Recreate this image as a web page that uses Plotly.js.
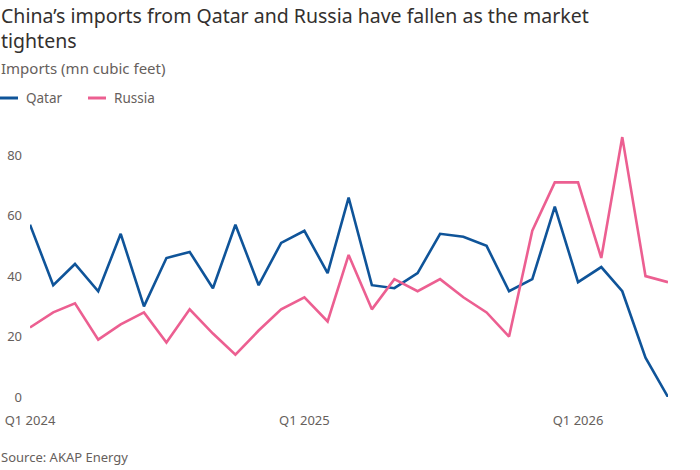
<!DOCTYPE html>
<html>
<head>
<meta charset="utf-8">
<script src="https://cdn.plot.ly/plotly-3.0.1.min.js"></script>
<style>
  html, body { margin: 0; padding: 0; background: #ffffff; }
  #chart { width: 700px; height: 470px; }
</style>
</head>
<body>
<div id="chart"></div>
<script>
// Monthly imports, January 2024 to May 2026 (mn cubic feet)
const months = [
  '2024-01-01','2024-02-01','2024-03-01','2024-04-01','2024-05-01','2024-06-01',
  '2024-07-01','2024-08-01','2024-09-01','2024-10-01','2024-11-01','2024-12-01',
  '2025-01-01','2025-02-01','2025-03-01','2025-04-01','2025-05-01','2025-06-01',
  '2025-07-01','2025-08-01','2025-09-01','2025-10-01','2025-11-01','2025-12-01',
  '2026-01-01','2026-02-01','2026-03-01','2026-04-01','2026-05-01'
];
const qatar = [57, 37, 44, 35, 54, 30, 46, 48, 36, 57, 37, 51,
               55, 41, 66, 37, 36, 41, 54, 53, 50, 35, 39, 63,
               38, 43, 35, 13, 0];
const russia = [23, 28, 31, 19, 24, 28, 18, 29, 21, 14, 22, 29,
                33, 25, 47, 29, 39, 35, 39, 33, 28, 20, 55, 71,
                71, 46, 86, 40, 38];
const seriesNames = ['Qatar', 'Russia'];
const seriesColors = ['#0f5499', '#ec5f91'];
const xTickVals = ['2024-01-01', '2025-01-01', '2026-01-01'];
const xTickText = ['Q1 2024', 'Q1 2025', 'Q1 2026'];
const yTickVals = [0, 20, 40, 60, 80];

const FONT = 'Noto Sans, Open Sans, sans-serif';
const INK = '#33302e';
const GREY = '#66605c';

const W = 700, H = 470;
const M = { l: 30, r: 32, t: 125, b: 73 };
const plotW = W - M.l - M.r, plotH = H - M.t - M.b;
// convert page pixels into paper fractions for the header and footer
const px = v => (v - M.l) / plotW;
const py = v => (H - M.b - v) / plotH;

const traces = [
  {
    x: months, y: qatar, name: seriesNames[0], type: 'scatter', mode: 'lines',
    line: { color: seriesColors[0], width: 2.6 }
  },
  {
    x: months, y: russia, name: seriesNames[1], type: 'scatter', mode: 'lines',
    line: { color: seriesColors[1], width: 2.6 }
  }
];

// legend: short coloured key followed by the series name
const legendKeys = [{ x0: 0, x1: 18, tx: 24 }, { x0: 88, x1: 106, tx: 112 }];
const legendY = 98;
const shapes = legendKeys.map((k, i) => ({
  type: 'line', xref: 'paper', yref: 'paper',
  x0: px(k.x0), x1: px(k.x1), y0: py(legendY), y1: py(legendY),
  line: { color: seriesColors[i], width: 3 }
}));
const legendText = legendKeys.map((k, i) => ({
  text: seriesNames[i], xref: 'paper', yref: 'paper',
  x: px(k.tx), y: py(legendY), xanchor: 'left', yanchor: 'middle',
  showarrow: false, font: { family: FONT, size: 13.5, color: GREY }
}));

const layout = {
  width: W, height: H,
  paper_bgcolor: '#ffffff', plot_bgcolor: '#ffffff',
  margin: M,
  font: { family: FONT, color: GREY, size: 13 },
  showlegend: false,
  xaxis: {
    type: 'date',
    range: [months[0], months[months.length - 1]],
    tickvals: xTickVals, ticktext: xTickText,
    showgrid: false, zeroline: false, showline: false,
    ticks: '', ticklabelstandoff: 14,
    tickfont: { family: FONT, size: 13, color: GREY }
  },
  yaxis: {
    range: [0, 90],
    tickvals: yTickVals,
    showgrid: false, zeroline: false, showline: false,
    ticks: '', ticklabelstandoff: 7,
    tickfont: { family: FONT, size: 13, color: GREY }
  },
  shapes: shapes,
  annotations: [
    {
      text: 'China’s imports from Qatar and Russia have fallen as the market<br>tightens',
      xref: 'paper', yref: 'paper', x: px(-1), y: py(0),
      xanchor: 'left', yanchor: 'top', align: 'left', showarrow: false,
      font: { family: FONT, size: 19.5, color: INK }
    },
    {
      text: 'Imports (mn cubic feet)',
      xref: 'paper', yref: 'paper', x: px(-1), y: py(68),
      xanchor: 'left', yanchor: 'middle', showarrow: false,
      font: { family: FONT, size: 15, color: GREY }
    },
    {
      text: 'Source: AKAP Energy',
      xref: 'paper', yref: 'paper', x: px(-1), y: py(457),
      xanchor: 'left', yanchor: 'middle', showarrow: false,
      font: { family: FONT, size: 13, color: GREY }
    }
  ].concat(legendText)
};

Plotly.newPlot('chart', traces, layout, { displayModeBar: false, staticPlot: true });
</script>
</body>
</html>
